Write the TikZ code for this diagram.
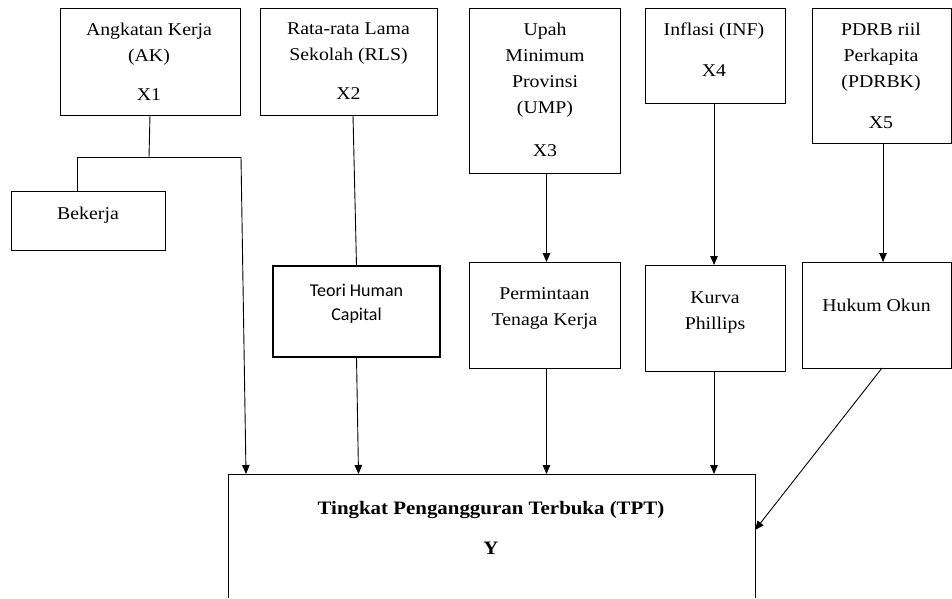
\documentclass[tikz,border=0pt]{standalone}
\usepackage{fontspec}
\setmainfont{Liberation Serif}[FakeStretch=1.1]
\newfontfamily\hcfont{Carlito}
\usetikzlibrary{arrows.meta}

\tikzset{
  box/.style={draw, line width=0.9pt, inner sep=0pt, outer sep=0pt},
  thickbox/.style={box, line width=2pt},
  txt/.style={anchor=north, align=center, inner sep=0pt, font=\fontsize{18}{26}\selectfont},
  hctxt/.style={anchor=north, align=center, inner sep=0pt, font=\hcfont\fontsize{18}{24}\selectfont},
  link/.style={line width=0.9pt},
  arr/.style={link, -{Triangle[length=9pt,width=7.5pt]}},
}

\begin{document}
\begin{tikzpicture}[x=1pt, y=-1pt]
  \useasboundingbox (0,0) rectangle (952,598);
  % variable boxes
  \node[box, minimum width=180pt, minimum height=107pt] (ak) at (150,61.5) {};
  \node[box, minimum width=177pt, minimum height=107pt] (rls) at (348.5,61.5) {};
  \node[box, minimum width=151pt, minimum height=165pt] (ump) at (544.5,90.5) {};
  \node[box, minimum width=140pt, minimum height=95pt] (inf) at (715,55.5) {};
  \node[box, minimum width=139pt, minimum height=135pt] (pdrbk) at (881.5,75.5) {};
  \node[txt] (akt) at (149,23) {Angkatan Kerja\\(AK)\\[13pt]X1};
  \node[txt] (rlst) at (348.5,23) {Rata-rata Lama\\Sekolah (RLS)\\[13pt]X2};
  \node[txt] (umpt) at (545,23) {Upah\\Minimum\\Provinsi\\(UMP)\\[17pt]X3};
  \node[txt] (inft) at (714,23) {Inflasi (INF)\\[15pt]X4};
  \node[txt] (pdrbkt) at (881,23) {PDRB riil\\Perkapita\\(PDRBK)\\[15pt]X5};
  % theory boxes
  \node[box, minimum width=154pt, minimum height=59pt] (bek) at (88,220.5) {};
  \node[thickbox, minimum width=167pt, minimum height=91pt] (hc) at (356.5,311.5) {};
  \node[box, minimum width=151pt, minimum height=106pt] (perm) at (544.5,315) {};
  \node[box, minimum width=140pt, minimum height=106pt] (kurva) at (715,318) {};
  \node[box, minimum width=149pt, minimum height=106pt] (okun) at (876.5,315) {};
  \node[txt] (bekt) at (88,206.5) {Bekerja};
  \node[hctxt] (hct) at (356.5,284) {Teori Human\\Capital};
  \node[txt] (permt) at (544.5,287.5) {Permintaan\\Tenaga Kerja};
  \node[txt] (kurvat) at (715,291.5) {Kurva\\Phillips};
  \node[txt] (okunt) at (876.5,298.5) {Hukum Okun};
  % dependent variable
  \node[inner sep=0pt, outer sep=0pt, minimum width=527pt, minimum height=124pt] (tpt) at (491.5,536) {};
  \draw[link] (tpt.south west) -- (tpt.north west) -- (tpt.north east) -- (tpt.south east);
  \node[txt, font=\bfseries\fontsize{19}{26}\selectfont] (tptt) at (491,501) {Tingkat Pengangguran Terbuka (TPT)\\[14pt]Y};
  % connectors
  \coordinate (akj) at (149,157);
  \coordinate (bekj) at (77,157);
  \coordinate (tptj) at (241,157);
  \draw[link] (ak.south) -- (akj);
  \draw[link] (bekj |- bek.north) -- (bekj) -- (tptj);
  \draw[arr] (tptj) -- ([xshift=18pt]tpt.north west);
  \draw[link] ([xshift=4.5pt]rls.south) -- (hc.north);
  \draw[arr] (hc.south) -- ([xshift=2pt]hc.south |- tpt.north);
  \draw[arr] ([xshift=2pt]ump.south) -- ([xshift=2pt]perm.north);
  \draw[arr] ([xshift=2pt]perm.south) -- ([xshift=2pt]perm.south |- tpt.north);
  \draw[arr] ([xshift=-1pt]inf.south) -- ([xshift=-1pt]kurva.north);
  \draw[arr] ([xshift=-1pt]kurva.south) -- ([xshift=-1pt]kurva.south |- tpt.north);
  \draw[arr] ([xshift=1.5pt]pdrbk.south) -- ([xshift=1.5pt]pdrbk.south |- okun.north);
  \draw[arr] ([xshift=5.5pt]okun.south) -- ([yshift=6pt]tpt.east);
\end{tikzpicture}
\end{document}
